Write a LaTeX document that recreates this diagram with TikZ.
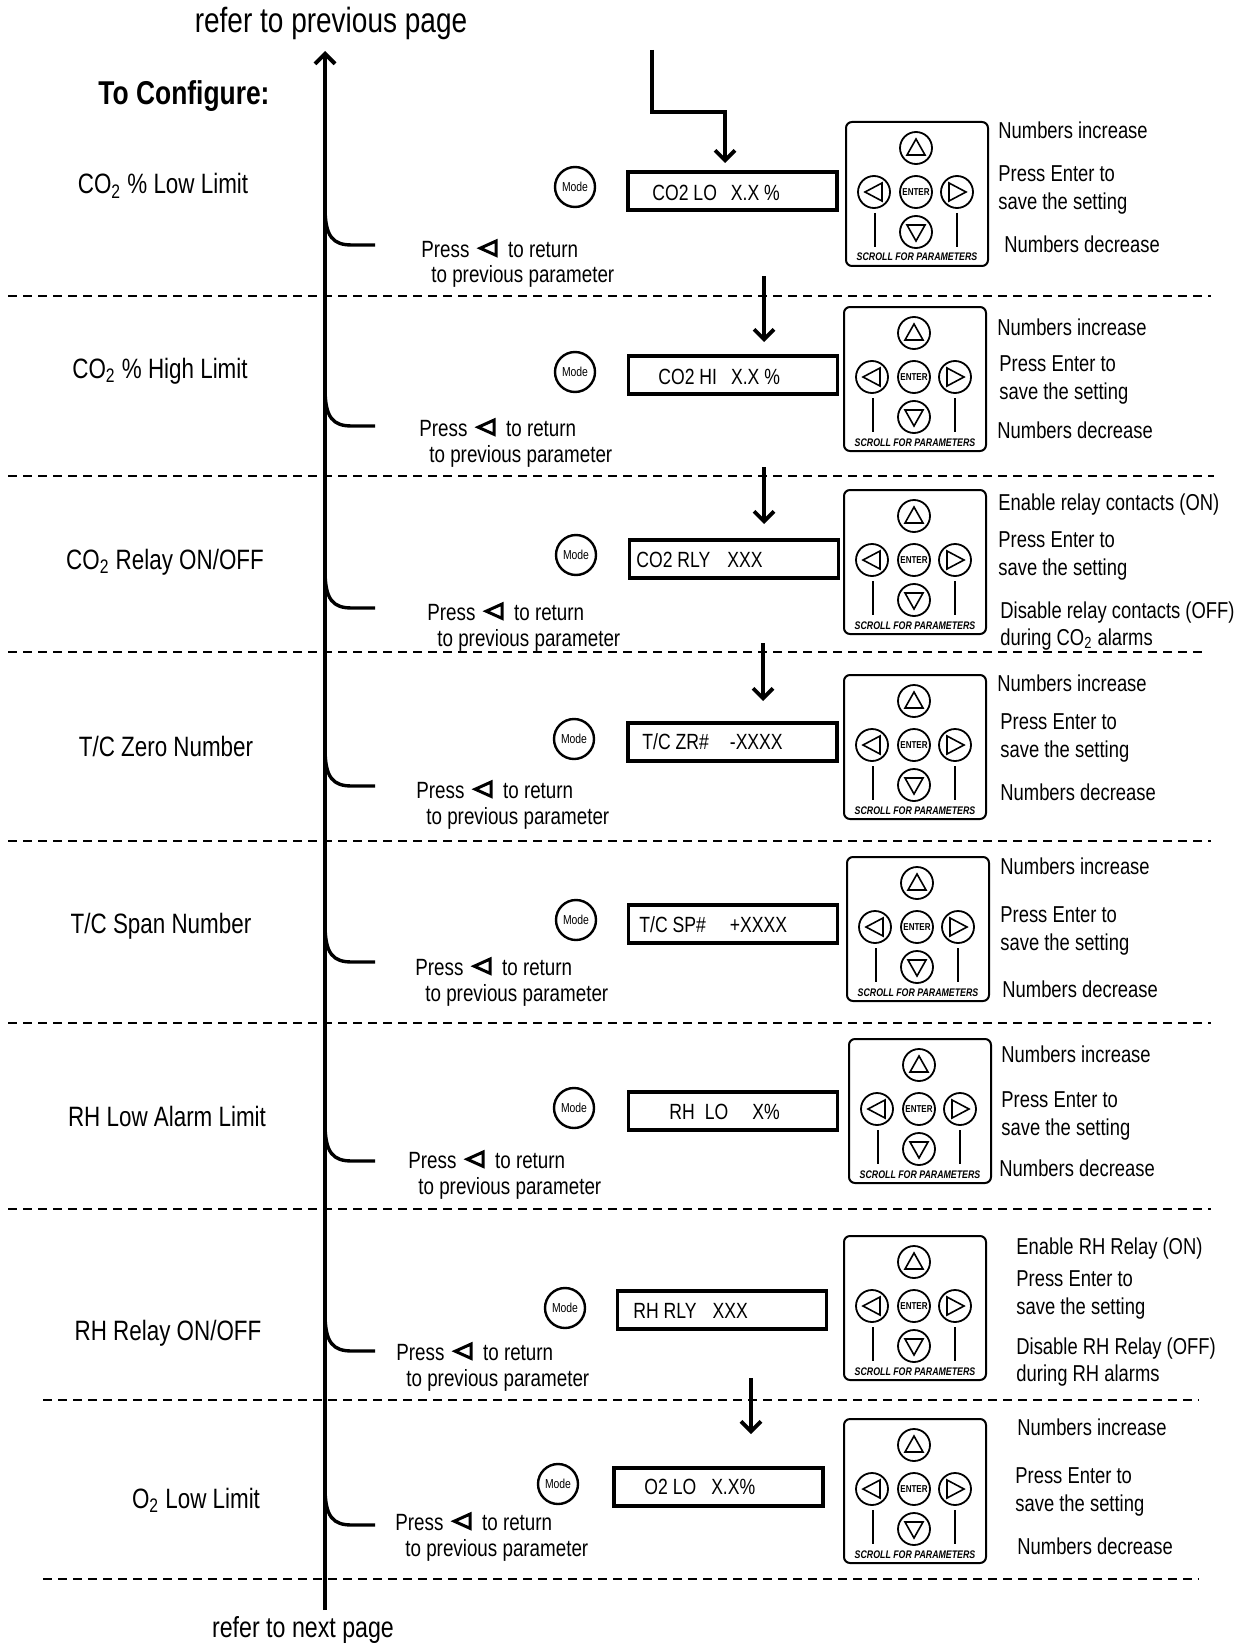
\documentclass[tikz,border=0pt]{standalone}
\usepackage{fontspec}
\setmainfont{Liberation Sans}[FakeStretch=0.8]
\usetikzlibrary{arrows.meta}

\newcommand\backtri{\tikz[x=1pt,y=1pt,baseline=0pt]\draw[line width=1.5pt,line join=miter] (9,0.8)--(9,8)--(1,4.4)--cycle;}

\tikzset{
	mainln/.style={line width=2pt,-{Straight Barb[length=5pt,width=10pt]}},
	flow/.style={line width=1.9pt,-{Straight Barb[length=5pt,width=10pt]}},
	sep/.style={line width=1.3pt,dash pattern=on 4.5pt off 3pt},
	hook/.style={line width=1.7pt},
	modebtn/.style={circle,draw,line width=1.2pt,minimum size=20pt,inner sep=0pt,font=\fontsize{6.5}{7}\selectfont},
	lcd/.style={draw,line width=1.8pt,minimum width=104.5pt,minimum height=19pt,inner sep=0pt},
	lcdtxt/.style={anchor=base west,inner sep=0pt,font=\fontsize{11}{13}\selectfont},
	param/.style={anchor=base,inner sep=0pt,font=\fontsize{14}{16}\selectfont},
	hint/.style={anchor=base west,inner sep=0pt,align=left,font=\fontsize{11.5}{14}\selectfont},
	back/.style={anchor=base west,inner sep=0pt,align=left,font=\fontsize{11.75}{13}\selectfont},
	keypad/.pic={
		\draw[line width=1pt,rounded corners=3pt] (0,0) rectangle (142,144);
		\foreach \cx/\cy in {70/26,28/70,70/70,111/70,70/110}
			\draw[line width=0.9pt] (\cx,\cy) circle (8pt);
		\node[inner sep=0pt,font=\fontsize{5}{5}\selectfont\bfseries] (-ent) at (70,70) {ENTER};
		\draw[line width=0.8pt] (61,33)--(79,33)--(70,17)--cycle;
		\draw[line width=0.8pt] (36,61)--(36,79)--(19,70)--cycle;
		\draw[line width=0.8pt] (103,61)--(103,79)--(120,70)--cycle;
		\draw[line width=0.8pt] (61,103)--(79,103)--(70,119)--cycle;
		\draw[line width=0.8pt] (29,91)--(29,125);\draw[line width=0.8pt] (111,91)--(111,125);
		\node[anchor=base,inner sep=0pt,font=\fontsize{5.5}{6}\selectfont\bfseries\itshape] (-scr) at (71,139) {SCROLL FOR PARAMETERS};
	}
}

\begin{document}
\begin{tikzpicture}[x=0.5pt,y=-0.5pt]
	\useasboundingbox (0,0) rectangle (1248,1648);
	\foreach \y/\a/\b in {296/8/1211,476/8/1214,652/8/1207,841/8/1211,1023/8/1211,1209/8/1211,1400/43/1199,1579/43/1199}
		\draw[sep] (\a,\y) -- (\b,\y);
	\coordinate (top) at (325,51);\coordinate (bot) at (325,1610);
	\draw[mainln] (bot) -- (top);
	\node[anchor=base,inner sep=0pt,font=\fontsize{17.5}{20}\selectfont] (prev) at (331,33) {refer to previous page};
	\node[anchor=base,inner sep=0pt,font=\fontsize{14.5}{17}\selectfont] (next) at (303,1637) {refer to next page};
	\node[anchor=base,inner sep=0pt,font=\fontsize{16.5}{19}\selectfont\bfseries] (head) at (184,105) {To Configure:};

	\node[param] (lbl1) at (163,194) {CO\textsubscript{2} \% Low Limit};
	\node[modebtn] (mode1) at (575,187) {Mode};
	\node[lcd] (disp1) at (732.5,191) {};\node[lcdtxt] (dtx1) at (652,201) {CO2 LO\hspace{7pt}X.X \%};
	\pic (kp1) at (846,122) {keypad};
	\node[hint] (inc1) at (998,139) {Numbers increase};
	\node[hint] (ent1) at (998,210) {Press Enter to\\save the setting};
	\node[hint] (dec1) at (1004,253) {Numbers decrease};
	\coordinate (h1) at (375,245);\draw[hook] (325,207) .. controls (325,237) and (333,245) .. (352,245) -- (h1);
	\node[back] (prs1) at (421,283) {Press\hspace{2pt} \backtri\ \ to return\\\hspace*{5pt}to previous parameter};
	\coordinate (in1) at (652,50);\coordinate (tip1) at (725,163);
	\draw[flow] (in1) |- (725,112) -- (tip1);

	\node[param] (lbl2) at (160,378) {CO\textsubscript{2} \% High Limit};
	\node[modebtn] (mode2) at (575,372) {Mode};
	\node[lcd] (disp2) at (733,375) {};\node[lcdtxt] (dtx2) at (658,384) {CO2 HI\hspace{7pt}X.X \%};
	\pic (kp2) at (844,307) {keypad};
	\node[hint] (inc2) at (997,335) {Numbers increase};
	\node[hint] (ent2) at (999,399) {Press Enter to\\save the setting};
	\node[hint] (dec2) at (997,438) {Numbers decrease};
	\coordinate (h2) at (375,426);\draw[hook] (325,388) .. controls (325,418) and (333,426) .. (352,426) -- (h2);
	\node[back] (prs2) at (419,462) {Press\hspace{2pt} \backtri\ \ to return\\\hspace*{5pt}to previous parameter};
	\coordinate (in2) at (764,276);\coordinate (tip2) at (764,342);
	\draw[flow] (in2) -- (tip2);

	\node[param] (lbl3) at (165,569) {CO\textsubscript{2} Relay ON/OFF};
	\node[modebtn] (mode3) at (576,555) {Mode};
	\node[lcd] (disp3) at (734,559) {};\node[lcdtxt] (dtx3) at (636,567) {CO2 RLY\hspace{8.5pt}XXX};
	\pic (kp3) at (844,490) {keypad};
	\node[hint] (inc3) at (998,510) {Enable relay contacts (ON)};
	\node[hint] (ent3) at (998,575) {Press Enter to\\save the setting};
	\node[hint,font=\fontsize{11.5}{13.5}\selectfont] (dec3) at (1000,645) {Disable relay contacts (OFF)\\during CO\textsubscript{2} alarms};
	\coordinate (h3) at (375,608);\draw[hook] (325,570) .. controls (325,600) and (333,608) .. (352,608) -- (h3);
	\node[back] (prs3) at (427,646) {Press\hspace{2pt} \backtri\ \ to return\\\hspace*{5pt}to previous parameter};
	\coordinate (in3) at (764,467);\coordinate (tip3) at (764,524);
	\draw[flow] (in3) -- (tip3);

	\node[param] (lbl4) at (166,756) {T/C Zero Number};
	\node[modebtn] (mode4) at (574,739) {Mode};
	\node[lcd] (disp4) at (732.5,742) {};\node[lcdtxt] (dtx4) at (642,749) {T/C ZR\#\hspace{10.5pt}-XXXX};
	\pic (kp4) at (844,675) {keypad};
	\node[hint] (inc4) at (997,691) {Numbers increase};
	\node[hint] (ent4) at (1000,757) {Press Enter to\\save the setting};
	\node[hint] (dec4) at (1000,800) {Numbers decrease};
	\coordinate (h4) at (375,786);\draw[hook] (325,748) .. controls (325,778) and (333,786) .. (352,786) -- (h4);
	\node[back] (prs4) at (416,824) {Press\hspace{2pt} \backtri\ \ to return\\\hspace*{5pt}to previous parameter};
	\coordinate (in4) at (763,643);\coordinate (tip4) at (763,701);
	\draw[flow] (in4) -- (tip4);

	\node[param] (lbl5) at (161,933) {T/C Span Number};
	\node[modebtn] (mode5) at (576,920) {Mode};
	\node[lcd] (disp5) at (733,924) {};\node[lcdtxt] (dtx5) at (639,932) {T/C SP\#\hspace{12pt}+XXXX};
	\pic (kp5) at (847,857) {keypad};
	\node[hint] (inc5) at (1000,874) {Numbers increase};
	\node[hint] (ent5) at (1000,950) {Press Enter to\\save the setting};
	\node[hint] (dec5) at (1002,997) {Numbers decrease};
	\coordinate (h5) at (375,962);\draw[hook] (325,924) .. controls (325,954) and (333,962) .. (352,962) -- (h5);
	\node[back] (prs5) at (415,1001) {Press\hspace{2pt} \backtri\ \ to return\\\hspace*{5pt}to previous parameter};

	\node[param] (lbl6) at (167,1126) {RH Low Alarm Limit};
	\node[modebtn] (mode6) at (574,1108) {Mode};
	\node[lcd] (disp6) at (733,1111) {};\node[lcdtxt] (dtx6) at (669,1119) {RH\hspace{5pt}LO\hspace{12pt}X\%};
	\pic (kp6) at (849,1039) {keypad};
	\node[hint] (inc6) at (1001,1062) {Numbers increase};
	\node[hint] (ent6) at (1001,1135) {Press Enter to\\save the setting};
	\node[hint] (dec6) at (999,1176) {Numbers decrease};
	\coordinate (h6) at (375,1161);\draw[hook] (325,1123) .. controls (325,1153) and (333,1161) .. (352,1161) -- (h6);
	\node[back] (prs6) at (408,1194) {Press\hspace{2pt} \backtri\ \ to return\\\hspace*{5pt}to previous parameter};

	\node[param] (lbl7) at (168,1340) {RH Relay ON/OFF};
	\node[modebtn] (mode7) at (565,1308) {Mode};
	\node[lcd] (disp7) at (722,1310) {};\node[lcdtxt] (dtx7) at (633,1318) {RH RLY\hspace{8pt}XXX};
	\pic (kp7) at (844,1236) {keypad};
	\node[hint] (inc7) at (1016,1254) {Enable RH Relay (ON)};
	\node[hint] (ent7) at (1016,1314) {Press Enter to\\save the setting};
	\node[hint,font=\fontsize{11.5}{13.5}\selectfont] (dec7) at (1016,1381) {Disable RH Relay (OFF)\\during RH alarms};
	\coordinate (h7) at (375,1351);\draw[hook] (325,1313) .. controls (325,1343) and (333,1351) .. (352,1351) -- (h7);
	\node[back] (prs7) at (396,1386) {Press\hspace{2pt} \backtri\ \ to return\\\hspace*{5pt}to previous parameter};
	\coordinate (in8) at (751,1378);\coordinate (tip8) at (751,1434);
	\draw[flow] (in8) -- (tip8);

	\node[param] (lbl8) at (196,1508) {O\textsubscript{2} Low Limit};
	\node[modebtn] (mode8) at (558,1484) {Mode};
	\node[lcd] (disp8) at (718.5,1487) {};\node[lcdtxt] (dtx8) at (644,1494) {O2 LO\hspace{7.5pt}X.X\%};
	\pic (kp8) at (844,1419) {keypad};
	\node[hint] (inc8) at (1017,1435) {Numbers increase};
	\node[hint] (ent8) at (1015,1511) {Press Enter to\\save the setting};
	\node[hint] (dec8) at (1017,1554) {Numbers decrease};
	\coordinate (h8) at (375,1525);\draw[hook] (325,1487) .. controls (325,1517) and (333,1525) .. (352,1525) -- (h8);
	\node[back] (prs8) at (395,1556) {Press\hspace{2pt} \backtri\ \ to return\\\hspace*{5pt}to previous parameter};
\end{tikzpicture}
\end{document}
